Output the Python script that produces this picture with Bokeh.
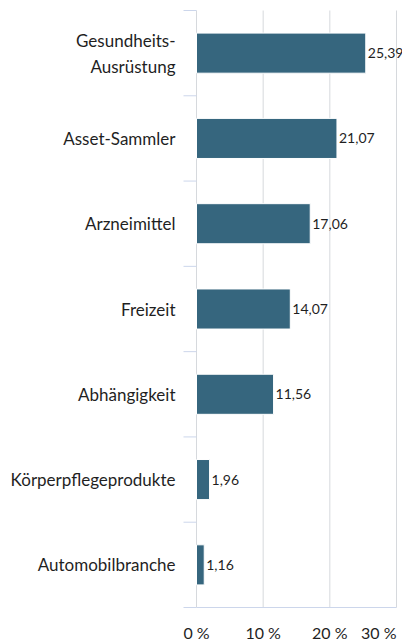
from bokeh.plotting import figure
from bokeh.models import ColumnDataSource
from bokeh.embed import file_html
from bokeh.resources import INLINE
from bokeh.core.properties import value

categories = ["Gesundheits-\nAusrüstung", "Asset-Sammler", "Arzneimittel", "Freizeit",
              "Abhängigkeit", "Körperpflegeprodukte", "Automobilbranche"]
values = [25.39, 21.07, 17.06, 14.07, 11.56, 1.96, 1.16]
x_ticks = [0, 10, 20, 30]
x_tick_labels = ["0 %", "10 %", "20 %", "30 %"]

FONT = "Lato"
BAR = "#36667e"
GRID = "#d6d9dd"
AXIS = "#ccd6eb"
TXT = "#1f1f1f"

n = len(categories)
xmax = x_ticks[-1]
ypos = [n - i - 0.5 for i in range(n)]
src = ColumnDataSource(dict(
    y=ypos, v=values,
    lab=[f"{v:.2f}".replace(".", ",") for v in values],
))

# layout (pixels): plot band starts at x=196, 200 px wide for the 0..30 scale,
# starts at y=10 and is 597 px tall for the categories. The frame covers the
# whole canvas so no text is clipped; axes are drawn from the scales.
W, H = 402, 641
LEFT, TOP, BAND_W, BAND_H = 196, 10, 200, 597
TICK_LEN = 13
px_per_x = BAND_W / xmax
px_per_y = BAND_H / n

p = figure(width=W, height=H, output_backend="svg", toolbar_location=None,
           x_range=(-LEFT / px_per_x, (W - LEFT) / px_per_x),
           y_range=(n - (H - TOP) / px_per_y, n + TOP / px_per_y),
           x_axis_location=None, y_axis_location=None,
           min_border=0)
p.outline_line_color = None
p.background_fill_color = "white"
p.xgrid.visible = False
p.ygrid.visible = False

# vertical grid lines (the one at 0 doubles as the category axis line)
p.segment(x0=x_ticks, y0=[0] * len(x_ticks), x1=x_ticks, y1=[n] * len(x_ticks),
          line_color=GRID, line_width=1)
# value axis line
p.segment(x0=[0], y0=[0], x1=[xmax], y1=[0], line_color=AXIS, line_width=1)
# category boundary ticks
bounds = list(range(n + 1))
p.segment(x0=[-TICK_LEN / px_per_x] * len(bounds), y0=bounds,
          x1=[0] * len(bounds), y1=bounds, line_color=AXIS, line_width=1)

p.hbar(y="y", right="v", left=0, height=0.47, source=src,
       fill_color=BAR, line_color="white", line_width=1)
p.text(x="v", y="y", text="lab", source=src, x_offset=2,
       text_baseline="middle", text_align="left",
       text_font=value(FONT), text_font_size="14px", text_color=TXT)

# category labels
cat_src = ColumnDataSource(dict(x=[0] * n, y=ypos, t=categories))
p.text(x="x", y="y", text="t", source=cat_src, x_offset=-21,
       text_align="right", text_baseline="middle", text_line_height=1.25,
       text_font=value(FONT), text_font_size="17px", text_color=TXT)

# x tick labels (last one kept inside the canvas)
tick_src = ColumnDataSource(dict(
    x=x_ticks, y=[0] * len(x_ticks), t=x_tick_labels,
    a=["center"] * (len(x_ticks) - 1) + ["right"],
))
p.text(x="x", y="y", text="t", text_align="a", source=tick_src, y_offset=25,
       text_baseline="middle", text_font=value(FONT), text_font_size="16px",
       text_color=TXT)

open("out.html", "w").write(file_html(p, INLINE))
